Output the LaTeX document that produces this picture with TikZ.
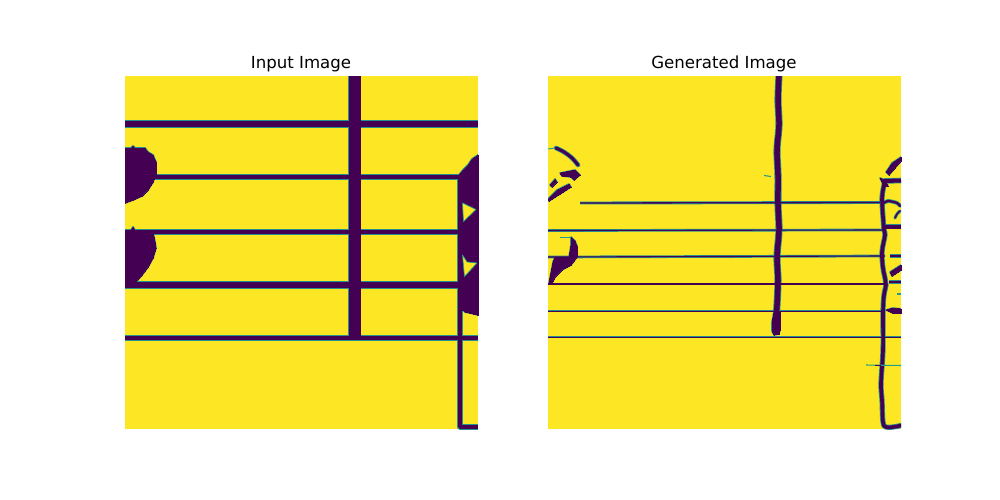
\documentclass[tikz,border=0pt]{standalone}
\usepackage{fontspec}
\setmainfont{DejaVu Sans}
\definecolor{vyellow}{HTML}{FDE725}
\definecolor{vink}{HTML}{440154}
\definecolor{vedge}{HTML}{26908C}
\definecolor{vteal}{HTML}{1F9E89}
\tikzset{
  panel/.style={fill=vyellow,draw=none},
  title/.style={font=\fontsize{12.45pt}{15pt}\selectfont,text=black,inner sep=0pt,anchor=base},
  gap/.style={fill=vyellow,draw=vteal,line width=0.5pt,line join=round}
}
\newcommand\pen[2]{\draw[draw=\penc,line width={(#1+\extra)*0.75pt},line join=round]#2;}
\newcommand\curve[2]{\draw[draw=\penc,line width={(#1+\extra)*0.75pt},line cap=round,line join=round]plot[smooth,tension=0.6]coordinates{#2};}
\newcommand\blob[1]{\filldraw[draw=\penc,fill=\penc,line width={\extra*0.75pt},line join=round]#1--cycle;}
\begin{document}
\begin{tikzpicture}[x=0.75pt,y=-0.75pt]
\useasboundingbox (0,0) rectangle (1000,500);
\fill[white] (0,0) rectangle (1000,500);
\node[title] (inTitle) at (301,68) {Input Image};
\node[title] (genTitle) at (724,68) {Generated Image};
% Left panel
\fill[panel] (125,76) rectangle (478,429);
\begin{scope}
\clip (125,76) rectangle (478,429);
\foreach \penc/\extra in {vedge/1.8,vink/0}{
  \pen{6.6}{(125,124)--(478,124)}
  \pen{3.6}{(125,177)--(478,177)}
  \pen{3.6}{(125,232)--(478,232)}
  \pen{6.6}{(125,285)--(478,285)}
  \pen{3.6}{(125,338)--(478,338)}
  \pen{11.4}{(354.8,76)--(354.8,338)}
  \pen{3.6}{(460,177)--(460,427)--(478,427)}
  \blob{(125,148)--(131,148)--(133,146)--(135,148)--(145,148)--(148,152)--(153,155)--(156,162)--(156,174)--(153,182)--(148,190)--(142,196)--(133,200)--(125,203)}
  \blob{(125,230)--(131,230)--(133,227)--(135,230)--(153,232)--(155,242)--(156,248)--(153,258)--(148,267)--(142,275)--(136,282)--(125,286)}
  \blob{(478,155)--(472,159)--(468,165)--(463,170)--(458,176)--(458,310)--(463,310)--(465,312)--(470,313)--(478,315)}
}
\end{scope}
\draw[gap] (462.5,203)--(476,209.5)--(463.5,221.5)--cycle;
\draw[gap] (462.5,255)--(467,262)--(477,263)--(464.5,276.5)--cycle;
% Right panel
\fill[panel] (548,76) rectangle (901,429);
\begin{scope}
\clip (548,76) rectangle (901,429);
\foreach \penc/\extra in {vedge/1.6,vink/0}{
  \pen{1.3}{(580,203)--(880,202.5)}
  \pen{1.1}{(548,230.5)--(885,230)}
  \pen{1.1}{(548,257)--(885,256)}
  \pen{1.2}{(548,284)--(885,284)}
  \pen{0.9}{(548,311)--(885,311)}
  \pen{0.9}{(548,337)--(901,337)}
  \curve{5.5}{(779,76)(778,100)(779,125)(777,150)(778,175)(778,205)(779,230)(777,257)(778,280)(777,305)(776,320)}
  \blob{(774,312)--(780,312)--(780,330)--(779,334)--(774,335)--(772,331)--(772,322)}
  \curve{3.6}{(885,181)(883,190)(882,200)(883,217)(884,230)(885,235)(882,252)(883,268)(885,278)(886,285)(884,295)(883,312)(883,350)(881,383)(882,400)(883,422)(886,427)(893,427)(901,425.5)}
  \blob{(880,178)--(885,180)--(888,186)--(884,186)}
  \blob{(886,172)--(892,163)--(901,157)--(901,161)--(895,168)--(889,175)}
  \pen{4}{(884,181)--(901,180.5)}
  \curve{2.2}{(884,203)(888,201)(897,203)(900,206)}
  \curve{1.5}{(895,218)(897,214)(900,211)}
  \pen{4}{(885,226.5)--(901,226.5)}
  \pen{2.2}{(890,256)--(901,256)}
  \blob{(890,272)--(901,265)--(901,270)--(892,276)}
  \pen{1.6}{(889,282)--(901,282)}
  \blob{(886,310)--(893,308)--(901,309)--(901,313)--(893,313)}
  \curve{3}{(556,148)(564,152)(572,158)(578,165)}
  \blob{(560,173)--(575,170)--(580,175)--(574,180)--(571,177)--(562,176)}
  \blob{(550,185)--(555,179)--(557,182)--(552,187)}
  \blob{(548,199)--(557,190)--(569,184)--(571,187)--(560,194)--(549,201)}
  \blob{(571,237)--(575,241)--(577,246)--(577,257)--(571,265)--(562,270)--(555,277)--(552,283)--(549,283)--(553,262)--(555,257)--(569,257)--(571,245)}
}
\draw[vteal,line width=0.7pt] (548,149)--(555,148);
\draw[vteal,line width=0.8pt] (866,365)--(901,365.5);
\draw[vink,line width=0.7pt] (875,365)--(881,365);
\draw[vteal,line width=0.8pt] (764,175.5)--(771,176.5);
\draw[vteal,line width=0.5pt] (560,237)--(570,237);
\draw[vteal,line width=0.8pt] (897,294)--(901,294);
\end{scope}
\end{tikzpicture}
\end{document}
